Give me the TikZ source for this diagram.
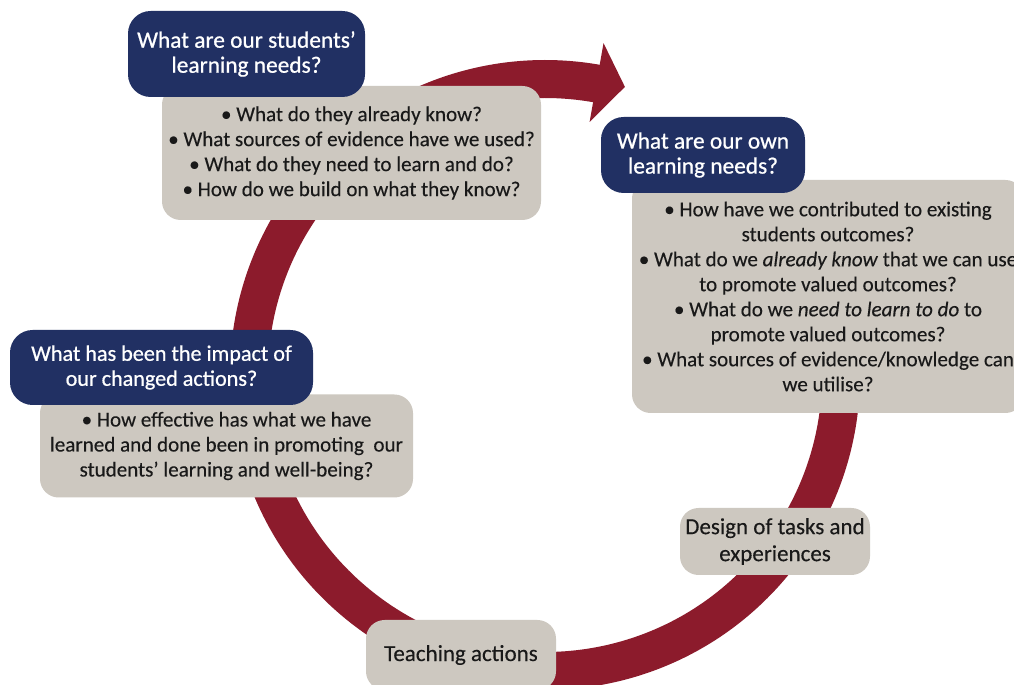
\documentclass[tikz,border=0pt]{standalone}
\usepackage{fontspec}
\setmainfont{Carlito}
\newfontfamily\hdfont{Carlito}[FakeBold=0.7]
\newfontfamily\bdfont{Carlito}[FakeBold=0.25]
\definecolor{navy}{RGB}{33,48,99}
\definecolor{boxgray}{RGB}{205,200,192}
\definecolor{ringred}{RGB}{140,27,44}
\tikzset{
  darkbox/.style={fill=navy, text=white, rounded corners=17pt, inner sep=0pt, align=center,
    font=\hdfont\fontsize{17.5}{18.75}\selectfont},
  graybox/.style={fill=boxgray, text=black!90, rounded corners=14pt, inner sep=0pt, align=center,
    font=\bdfont\fontsize{15.8}{18.75}\selectfont},
  bigtext/.style={font=\bdfont\fontsize{17.25}{20.25}\selectfont},
  sz/.style 2 args={minimum width=#1*0.75pt, minimum height=#2*0.75pt},
  ring/.style={draw=ringred, line width=28.5pt},
  ringhead/.style={fill=ringred}
}
\begin{document}
\begin{tikzpicture}[x=0.75pt,y=0.75pt]
\clip (0,0) rectangle (1014,685);
\fill[white] (0,0) rectangle (1014,685);
% ring
\coordinate (c) at (545,310);
\draw[ring] ([shift={(c)}]410:296) arc[start angle=410, end angle=79.5, radius=296];
\fill[ringhead] ([shift={(c)}]80:257) -- ([shift={(c)}]74.5:299) -- ([shift={(c)}]80:337) -- cycle;
% gray boxes
\node[graybox, sz={379}{134}] (g1) at (351.5,532) {• What do they already know?\\ • What sources of evidence have we used?\\ • What do they need to learn and do?\\ • How do we build on what they know?};
\node[graybox, sz={392}{233}] (g2) at (828,388.5) {• How have we contributed to existing\\ students outcomes?\\ • What do we \textit{already know} that we can use\\ to promote valued outcomes?\\ • What do we \textit{need to learn to do} to\\ promote valued outcomes?\\ • What sources of evidence/knowledge can\\ we utilise?};
\node[graybox, sz={373}{103}] (g3) at (226.5,239) {• How effective has what we have\\ learned and done been in promoting\ \ our\\ students’ learning and well-being?};
\node[graybox, bigtext, sz={190}{67}] (design) at (775,143.5) {Design of tasks and\\ experiences};
\node[graybox, bigtext, sz={190}{70}] (teach) at (461,30) {Teaching actions};
% dark boxes
\node[darkbox, sz={237}{86}] (d1) at (246.5,631) {What are our students’\\ learning needs?};
\node[darkbox, sz={204}{76}] (d2) at (703,530) {What are our own\\ learning needs?};
\node[darkbox, font=\hdfont\fontsize{16.6}{18.75}\selectfont, sz={303}{75}] (d3) at (161.5,317.5) {What has been the impact of\\ our changed actions?};
\end{tikzpicture}
\end{document}
